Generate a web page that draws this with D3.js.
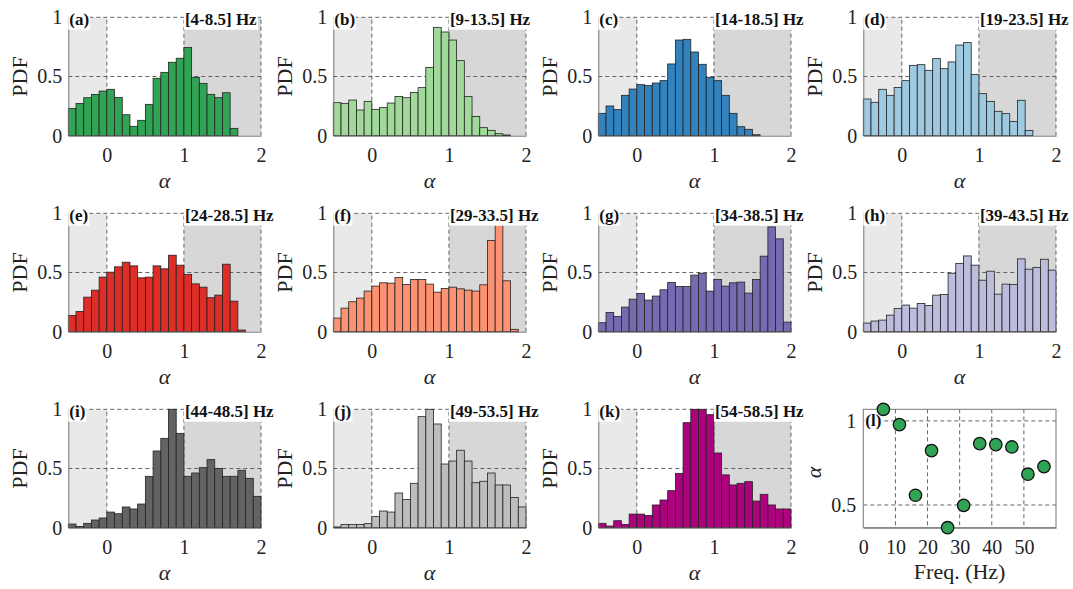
<!DOCTYPE html>
<html><head><meta charset="utf-8">
<script src="https://cdn.jsdelivr.net/npm/d3@7"></script>
<style>
body{margin:0;background:#fff}
svg{display:block}
text{font-family:"Liberation Serif","Times New Roman",serif}
</style>
</head><body>
<svg id="c" width="1073" height="589"></svg>
<script>
// ---------------- DATA ----------------
const alphaBins = [-0.5,-0.4,-0.3,-0.2,-0.1,0,0.1,0.2,0.3,0.4,0.5,0.6,0.7,0.8,0.9,1.0,1.1,1.2,1.3,1.4,1.5,1.6,1.7,1.8,1.9];
const binWidth = 0.1;
const bandLabels = ["[4-8.5] Hz","[9-13.5] Hz","[14-18.5] Hz","[19-23.5] Hz","[24-28.5] Hz","[29-33.5] Hz","[34-38.5] Hz","[39-43.5] Hz","[44-48.5] Hz","[49-53.5] Hz","[54-58.5] Hz"];
const panelLetters = ["(a)","(b)","(c)","(d)","(e)","(f)","(g)","(h)","(i)","(j)","(k)","(l)"];

const pdfA = [0.231,0.273,0.321,0.349,0.377,0.392,0.324,0.177,0.079,0.130,0.265,0.485,0.535,0.620,0.654,0.746,0.493,0.442,0.349,0.321,0.363,0.062,0,0,0];
const pdfB = [0.279,0.273,0.301,0.217,0.290,0.223,0.237,0.276,0.332,0.321,0.366,0.406,0.577,0.915,0.876,0.808,0.634,0.330,0.163,0.068,0.045,0.017,0.006,0,0];
const pdfC = [0.189,0.251,0.220,0.341,0.394,0.431,0.425,0.445,0.465,0.606,0.808,0.814,0.707,0.603,0.493,0.465,0.341,0.189,0.076,0.054,0.008,0,0,0,0];
const pdfD = [0.310,0.282,0.392,0.341,0.408,0.465,0.594,0.600,0.552,0.651,0.566,0.623,0.766,0.786,0.518,0.355,0.290,0.206,0.186,0.121,0.299,0.045,0,0,0];
const pdfE = [0.138,0.171,0.292,0.351,0.461,0.503,0.548,0.587,0.556,0.455,0.461,0.556,0.531,0.646,0.562,0.483,0.404,0.376,0.287,0.309,0.570,0.258,0.014,0,0];
const pdfF = [0.115,0.199,0.253,0.284,0.343,0.385,0.413,0.410,0.458,0.399,0.441,0.441,0.402,0.334,0.365,0.376,0.362,0.351,0.343,0.396,0.770,1.000,0.430,0.020,0];
const pdfG = [0.076,0.163,0.129,0.208,0.275,0.323,0.267,0.301,0.354,0.416,0.382,0.382,0.478,0.494,0.343,0.441,0.385,0.413,0.419,0.326,0.441,0.638,0.885,0.784,0.081];
const pdfH = [0.073,0.090,0.098,0.140,0.197,0.225,0.199,0.239,0.222,0.309,0.315,0.494,0.576,0.640,0.562,0.435,0.511,0.317,0.402,0.399,0.615,0.528,0.542,0.612,0.520];
const pdfI = [0.031,0.011,0.037,0.065,0.082,0.132,0.118,0.175,0.158,0.200,0.434,0.648,0.755,1.000,0.797,0.434,0.462,0.507,0.575,0.501,0.434,0.434,0.485,0.417,0.265];
const pdfJ = [0.006,0.028,0.028,0.028,0.034,0.096,0.141,0.132,0.293,0.239,0.375,0.938,1.000,0.876,0.538,0.563,0.654,0.563,0.380,0.392,0.462,0.361,0.361,0.256,0.175];
const pdfK = [0.037,0.014,0.059,0.028,0.115,0.115,0.104,0.192,0.234,0.313,0.459,0.887,1.000,1.000,0.955,0.631,0.446,0.361,0.375,0.389,0.225,0.282,0.192,0.158,0.158];
const pdfSeries = [pdfA,pdfB,pdfC,pdfD,pdfE,pdfF,pdfG,pdfH,pdfI,pdfJ,pdfK];

const freqCenters = [6.25,11.25,16.25,21.25,26.25,31.25,36.25,41.25,46.25,51.25,56.25];
const alphaPeak   = [1.069,0.978,0.558,0.823,0.365,0.498,0.865,0.859,0.845,0.683,0.728];

const histXTicks = [0,1,2];
const histYTicks = [0,0.5,1];
const freqTicks = [0,10,20,30,40,50];
const alphaTicks = [0.5,1];

// ---------------- STYLE / LAYOUT ----------------
const barColors = ["#31a354","#a1d99b","#3182bd","#9ecae1","#de2d26","#fc9272","#756bb1","#bcbddc","#636363","#bdbdbd","#ae017e"];
const colLeft = [68.3,333.3,598.3,863.3];
const rowTop = [17.3,213.3,409.3];
const W = 192.7, H = 118.4;
const lightGray = "#e9e9e9", darkGray = "#d7d7d7";
const gridColor = "#555", axisColor = "#777";
const tickFont = 20, labelFont = 22, tagFont = 17;

const svg = d3.select("#c");

function styleAxis(g){
  g.attr("font-family", null).attr("font-size", null);
  g.select(".domain").attr("stroke", axisColor).attr("stroke-width", 1);
  g.selectAll(".tick line").remove();
  g.selectAll(".tick text").attr("fill","#222").style("font-size", tickFont+"px")
    .style("font-family",'"Liberation Serif","Times New Roman",serif');
}

function addTag(g, txt, x0, yBase){
  const t = g.append("text").attr("x", x0+1).attr("y", yBase)
    .attr("font-weight","bold").style("font-size", tagFont+"px").attr("fill","#111").text(txt);
  const bb = t.node().getBBox();
  g.insert("rect", () => t.node()).attr("x", bb.x-1).attr("y", bb.y-0.5)
    .attr("width", bb.width+2).attr("height", bb.height+1).attr("fill","#fff");
}

pdfSeries.forEach((vals, i) => {
  const r = Math.floor(i/4), c = i%4;
  const g = svg.append("g").attr("transform", `translate(${colLeft[c]},${rowTop[r]})`);
  const x = d3.scaleLinear().domain([-0.5,2]).range([0,W]);
  const y = d3.scaleLinear().domain([0,1]).range([H,0]);

  // shaded regions
  g.append("rect").attr("x", x(-0.5)).attr("y", y(1)).attr("width", x(0)-x(-0.5)).attr("height", y(0)-y(1)).attr("fill", lightGray);
  g.append("rect").attr("x", x(1)).attr("y", y(1)).attr("width", x(2)-x(1)).attr("height", y(0)-y(1)).attr("fill", darkGray);

  // grid
  g.selectAll(".vg").data(histXTicks).join("line")
    .attr("x1", d=>x(d)).attr("x2", d=>x(d)).attr("y1", y(0)).attr("y2", y(1))
    .attr("stroke", gridColor).attr("stroke-dasharray","4,3").attr("stroke-width",0.9);
  g.selectAll(".hg").data([0.5,1]).join("line")
    .attr("x1", x(-0.5)).attr("x2", x(2)).attr("y1", d=>y(d)).attr("y2", d=>y(d))
    .attr("stroke", gridColor).attr("stroke-dasharray","4,3").attr("stroke-width",0.9);

  // bars
  const data = alphaBins.map((b,k)=>({b, v: vals[k]})).filter(d=>d.v>0);
  g.selectAll(".bar").data(data).join("rect")
    .attr("x", d=>x(d.b)).attr("width", d=>x(d.b+binWidth)-x(d.b))
    .attr("y", d=>y(Math.min(d.v,1))).attr("height", d=>y(0)-y(Math.min(d.v,1)))
    .attr("fill", barColors[i]).attr("stroke","#222").attr("stroke-width",0.8);

  // axes
  const ax = g.append("g").attr("transform",`translate(0,${H})`)
    .call(d3.axisBottom(x).tickValues(histXTicks).tickFormat(d3.format("d")).tickSize(0).tickSizeOuter(0).tickPadding(12));
  styleAxis(ax);
  const ay = g.append("g")
    .call(d3.axisLeft(y).tickValues(histYTicks).tickFormat(d=> d===0.5?"0.5":d3.format("d")(d)).tickSize(0).tickSizeOuter(0).tickPadding(6));
  styleAxis(ay);

  // labels
  g.append("text").attr("transform",`translate(-41,${H/2}) rotate(-90)`).attr("text-anchor","middle")
    .style("font-size", labelFont+"px").attr("fill","#222").text("PDF");
  g.append("text").attr("x", W/2).attr("y", H+52).attr("text-anchor","middle")
    .attr("font-style","italic").style("font-size", labelFont+"px").attr("fill","#222").text("α");

  addTag(g, panelLetters[i], x(-0.5), y(1)+7.9);
  addTag(g, bandLabels[i], x(1), y(1)+7.9);
});

// scatter panel (l)
{
  const g = svg.append("g").attr("transform", `translate(${colLeft[3]},${rowTop[2]})`);
  const x = d3.scaleLinear().domain([0,60]).range([0,W]);
  const y = d3.scaleLinear().domain(d3.extent(alphaPeak)).range([H,0]);
  g.selectAll(".vg").data(freqTicks.filter(d=>d>0)).join("line")
    .attr("x1", d=>x(d)).attr("x2", d=>x(d)).attr("y1", 0).attr("y2", H)
    .attr("stroke", gridColor).attr("stroke-dasharray","4,3").attr("stroke-width",0.9);
  g.selectAll(".hg").data(alphaTicks).join("line")
    .attr("x1", 0).attr("x2", W).attr("y1", d=>y(d)).attr("y2", d=>y(d))
    .attr("stroke", gridColor).attr("stroke-dasharray","4,3").attr("stroke-width",0.9);
  g.append("rect").attr("x",0).attr("y",0).attr("width",W).attr("height",H)
    .attr("fill","none").attr("stroke",axisColor).attr("stroke-width",1);
  const ax = g.append("g").attr("transform",`translate(0,${H})`)
    .call(d3.axisBottom(x).tickValues(freqTicks).tickFormat(d3.format("d")).tickSize(0).tickSizeOuter(0).tickPadding(12));
  styleAxis(ax);
  const ay = g.append("g")
    .call(d3.axisLeft(y).tickValues(alphaTicks).tickFormat(d=> d===0.5?"0.5":"1").tickSize(0).tickSizeOuter(0).tickPadding(7));
  styleAxis(ay);
  ay.select(".domain").remove();
  addTag(g, panelLetters[11], 1, y(1)+5.5);
  g.selectAll(".pt").data(freqCenters.map((f,k)=>({f, a: alphaPeak[k]}))).join("circle")
    .attr("cx", d=>x(d.f)).attr("cy", d=>y(d.a)).attr("r", 6.2)
    .attr("fill","#31a354").attr("stroke","#111").attr("stroke-width",1.3);
  g.append("text").attr("transform",`translate(-42,${H/2+4}) rotate(-90)`).attr("text-anchor","middle")
    .attr("font-style","italic").style("font-size", labelFont+"px").attr("fill","#222").text("α");
  g.append("text").attr("x", W/2).attr("y", H+51).attr("text-anchor","middle")
    .style("font-size", labelFont+"px").attr("fill","#222").text("Freq. (Hz)");
}
</script>
</body></html>
